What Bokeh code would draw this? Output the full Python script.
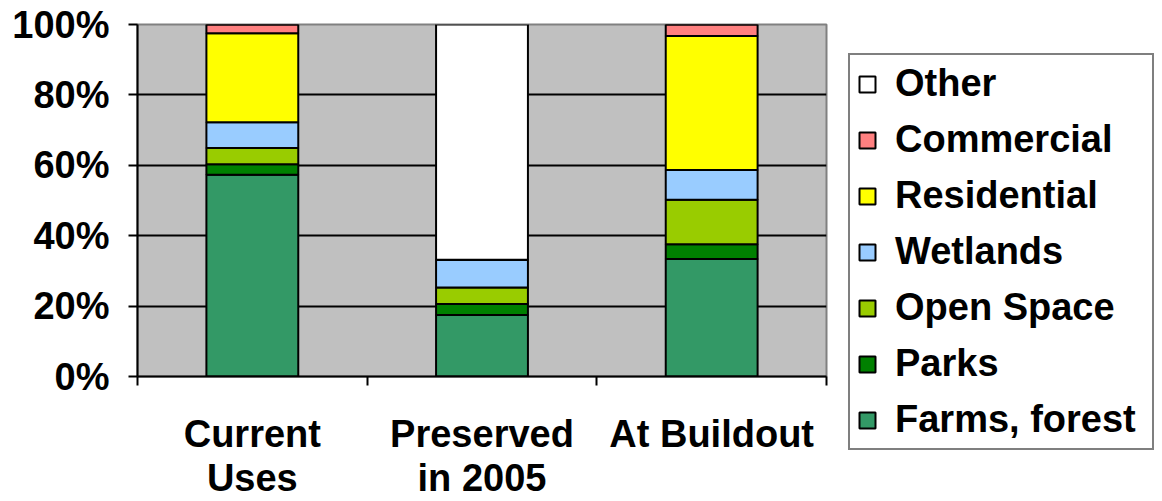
from bokeh.plotting import figure
from bokeh.models import (ColumnDataSource, Range1d, FixedTicker, Legend, LegendItem)
from bokeh.embed import file_html
from bokeh.resources import INLINE

# ---- data ----
categories = ["Current Uses", "Preserved in 2005", "At Buildout"]
category_labels = ["Current\nUses", "Preserved\nin 2005", "At Buildout"]
series = ["Farms, forest", "Parks", "Open Space", "Wetlands", "Residential", "Commercial", "Other"]
farms = [57.3, 17.5, 33.4]
parks = [3.0, 3.1, 4.2]
open_space = [4.6, 4.7, 12.6]
wetlands = [7.3, 7.9, 8.5]
residential = [25.3, 0.0, 38.0]
commercial = [2.5, 0.0, 3.3]
other = [0.0, 66.8, 0.0]
y_ticks = [0, 20, 40, 60, 80, 100]
y_tick_labels = ["0%", "20%", "40%", "60%", "80%", "100%"]
colors = ["#339966", "#008000", "#99CC00", "#99CCFF", "#FFFF00", "#FF8080", "#FFFFFF"]

FONT = "Liberation Sans"
FS = "38px"

xs = [i + 0.5 for i in range(len(categories))]
keys = ["farms", "parks", "open_space", "wetlands", "residential", "commercial", "other"]
source = ColumnDataSource(dict(x=xs, farms=farms, parks=parks, open_space=open_space,
                               wetlands=wetlands, residential=residential,
                               commercial=commercial, other=other))

p = figure(output_backend="svg", toolbar_location=None,
           x_range=Range1d(0, len(categories)), y_range=Range1d(0, 100),
           frame_width=689, frame_height=352,
           min_border_left=137, min_border_top=24, min_border_right=336, min_border_bottom=125)

p.background_fill_color = "#C0C0C0"
p.border_fill_color = "white"
p.outline_line_color = "#808080"
p.outline_line_width = 2

renderers = p.vbar_stack(keys, x="x", width=0.4, color=colors, line_color="black",
                         line_width=2, source=source)

# grid
p.xgrid.visible = False
p.ygrid.ticker = FixedTicker(ticks=y_ticks[1:-1])
p.ygrid.grid_line_color = "black"
p.ygrid.grid_line_width = 2

# y axis
ya = p.yaxis[0]
ya.ticker = FixedTicker(ticks=y_ticks)
ya.major_label_overrides = {t: l for t, l in zip(y_ticks, y_tick_labels)}
ya.axis_line_color = "black"
ya.axis_line_width = 2
ya.major_tick_line_color = "black"
ya.major_tick_line_width = 2
ya.major_tick_out = 9
ya.major_tick_in = 0
ya.minor_tick_line_color = None
ya.major_label_standoff = 19
ya.major_label_text_font = FONT
ya.major_label_text_font_style = "bold"
ya.major_label_text_font_size = FS
ya.major_label_text_color = "black"

# x axis
xa = p.xaxis[0]
xa.ticker = FixedTicker(ticks=xs, minor_ticks=list(range(len(categories) + 1)))
xa.major_label_overrides = {x: l for x, l in zip(xs, category_labels)}
xa.axis_line_color = "black"
xa.axis_line_width = 2
xa.major_tick_out = 0
xa.major_tick_in = 0
xa.major_tick_line_color = None
xa.minor_tick_line_color = "black"
xa.minor_tick_line_width = 2
xa.minor_tick_out = 9
xa.minor_tick_in = 0
xa.major_label_standoff = 27
xa.major_label_text_font = FONT
xa.major_label_text_font_style = "bold"
xa.major_label_text_font_size = FS
xa.major_label_text_color = "black"
xa.major_label_text_line_height = 1.05

# legend
items = [LegendItem(label=s, renderers=[r]) for s, r in zip(series, renderers)][::-1]
legend = Legend(items=items, location=(22, -74))
legend.label_text_font = FONT
legend.label_text_font_style = "bold"
legend.label_text_font_size = FS
legend.label_text_color = "black"
legend.glyph_width = 20
legend.glyph_height = 20
legend.label_height = 40
legend.label_width = 250
legend.label_standoff = 18
legend.spacing = 13
legend.padding = 7
legend.margin = 0
legend.border_line_color = "black"
legend.border_line_width = 2
legend.background_fill_color = "white"
legend.background_fill_alpha = 1
p.add_layout(legend, "right")

open("out.html", "w").write(file_html(p, INLINE))
